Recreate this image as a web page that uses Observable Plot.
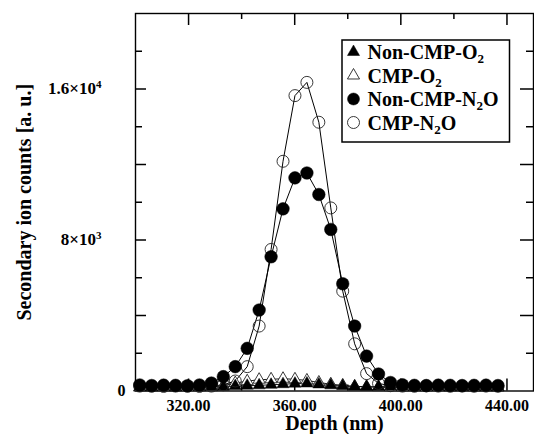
<!DOCTYPE html>
<html>
<head>
<meta charset="utf-8">
<script src="https://cdn.jsdelivr.net/npm/d3@7"></script>
<script src="https://cdn.jsdelivr.net/npm/@observablehq/plot@0.6"></script>
<style>
  html, body { margin: 0; padding: 0; background: #fff; }
  #chart { width: 534px; height: 434px; }
</style>
</head>
<body>
<div id="chart"></div>
<script>
// ---- data ----
const depth = [301.6, 306.1, 310.6, 315.1, 319.6, 324.1, 328.6, 333.1, 337.6, 342.1,
               346.6, 351.1, 355.6, 360.1, 364.6, 369.1, 373.6, 378.1, 382.6, 387.1,
               391.6, 396.1, 400.6, 405.1, 409.6, 414.1, 418.6, 423.1, 427.6, 432.1, 436.6];
const nonCmpO2 = [210, 200, 220, 200, 230, 210, 220, 230, 260, 280,
                  300, 330, 360, 390, 400, 350, 300, 260, 240, 230,
                  220, 230, 220, 210, 220, 210, 200, 210, 220, 200, 210];
const cmpO2 = [180, 170, 190, 180, 170, 190, 200, 280, 420, 520,
               600, 620, 650, 620, 560, 450, 360, 300, 240, 220,
               200, 190, 180, 190, 180, 170, 180, 190, 180, 170, 180];
const nonCmpN2O = [320, 290, 310, 300, 280, 320, 420, 760, 1290, 2260,
                   4290, 7110, 9650, 11290, 11550, 10410, 8560, 5680, 3440, 1850,
                   900, 450, 330, 300, 290, 310, 300, 290, 300, 310, 290];
const cmpN2O = [260, 250, 240, 260, 250, 240, 260, 330, 530, 1290,
                3440, 7500, 12170, 15650, 16350, 14240, 9700, 5290, 2500, 920,
                400, 280, 260, 250, 270, 260, 250, 260, 250, 260, 250];
const seriesNames = ["Non-CMP-O|2", "CMP-O|2", "Non-CMP-N|2|O", "CMP-N|2|O"];
const xLabelTicks = [320, 360, 400, 440];
const xMajorTicks = [320, 360, 400, 440];
const xMinorTicks = [340, 380, 420];
const yLabelTicks = [8000, 16000];
const yZeroTick = [0];
const yMajorTicks = [4000, 8000, 12000, 16000];
const yMinorTicks = [2000, 6000, 10000, 14000, 18000];
const xTitle = "Depth (nm)";
const yTitle = "Secondary ion counts [a. u.]";

// ---- build tables ----
const toRows = (vals) => depth.map((d, i) => ({depth: d, value: vals[i]}));
const rNonO2 = toRows(nonCmpO2), rCmpO2 = toRows(cmpO2),
      rNonN2O = toRows(nonCmpN2O), rCmpN2O = toRows(cmpN2O);

const FONT = "'Liberation Serif', 'Times New Roman', Times, serif";
const W = 534, H = 434, ML = 135, MR = 1, MT = 13, MB = 43.5;
const FW = W - ML - MR, FH = H - MT - MB;

const sciFmt = (v) => {
  if (v === 0) return "0";
  const e = Math.floor(Math.log10(v));
  const m = +(v / Math.pow(10, e)).toFixed(2);
  return `${m}×10|${e}`;
};

const chart = Plot.plot({
  width: W, height: H,
  marginLeft: ML, marginRight: MR, marginTop: MT, marginBottom: MB,
  style: {fontFamily: FONT, background: "#fff", color: "#000"},
  x: {domain: [300, 450]},
  y: {domain: [0, 20000]},
  marks: [
    // ticks (inward)
    Plot.ruleX(xMajorTicks, {x: d => d, insetTop: FH - 12, strokeWidth: 1.5}),
    Plot.ruleX(xMinorTicks, {x: d => d, insetTop: FH - 6, strokeWidth: 1.5}),
    Plot.ruleX(xMajorTicks, {x: d => d, insetBottom: FH - 12, strokeWidth: 1.5}),
    Plot.ruleX(xMinorTicks, {x: d => d, insetBottom: FH - 6, strokeWidth: 1.5}),
    Plot.ruleY(yMajorTicks, {y: d => d, insetRight: FW - 11, strokeWidth: 1.5}),
    Plot.ruleY(yMinorTicks, {y: d => d, insetRight: FW - 7, strokeWidth: 1.5}),
    Plot.ruleY(yMajorTicks, {y: d => d, insetLeft: FW - 13, strokeWidth: 1.5}),
    Plot.ruleY(yMinorTicks, {y: d => d, insetLeft: FW - 7, strokeWidth: 1.5}),
    Plot.frame({stroke: "#000", strokeWidth: 1.4}),
    // axes labels
    Plot.axisX(xLabelTicks, {tickSize: 0, tickPadding: 8.5, tickFormat: d => d.toFixed(2),
      fontSize: 16, fontWeight: "bold", label: null}),
    Plot.axisY(yLabelTicks, {tickSize: 0, tickPadding: 34, tickFormat: sciFmt,
      fontSize: 17, fontWeight: "bold", label: null}),
    Plot.axisY(yZeroTick, {tickSize: 0, tickPadding: 10, tickFormat: sciFmt,
      fontSize: 16, fontWeight: "bold", label: null}),
    Plot.text([xTitle], {frameAnchor: "bottom", dy: 32.5, fontSize: 20, fontWeight: "bold",
      lineAnchor: "middle", textAnchor: "middle"}),
    Plot.text([yTitle], {frameAnchor: "left", dx: -111, rotate: -90, fontSize: 20,
      fontWeight: "bold", lineAnchor: "middle", textAnchor: "middle"}),
    // lines
    Plot.line(rCmpO2, {x: "depth", y: "value", stroke: "#000", strokeWidth: 0.9}),
    Plot.line(rNonO2, {x: "depth", y: "value", stroke: "#000", strokeWidth: 0.9}),
    Plot.line(rCmpN2O, {x: "depth", y: "value", stroke: "#000", strokeWidth: 1}),
    Plot.line(rNonN2O, {x: "depth", y: "value", stroke: "#000", strokeWidth: 1}),
    // markers
    Plot.dot(rCmpO2, {x: "depth", y: "value", symbol: "triangle", r: 4.5,
      fill: "#fff", stroke: "#222", strokeWidth: 0.9}),
    Plot.dot(rNonO2, {x: "depth", y: "value", symbol: "triangle", r: 4.5,
      fill: "#000", stroke: "#000", strokeWidth: 0.5}),
    Plot.dot(rCmpN2O, {x: "depth", y: "value", symbol: "circle", r: 6,
      fill: "none", stroke: "#222", strokeWidth: 0.9}),
    Plot.dot(rNonN2O, {x: "depth", y: "value", symbol: "circle", r: 6.3,
      fill: "#000", stroke: "#000", strokeWidth: 0.5})
  ]
});

// superscripts in tick labels
d3.select(chart).selectAll("text").each(function () {
  const t = this.textContent;
  if (t.includes("|") && this.childElementCount === 0) {
    const [a, b] = t.split("|");
    const s = d3.select(this);
    s.text(null);
    s.append("tspan").text(a);
    s.append("tspan").attr("font-size", 11).attr("dy", "-0.6em").text(b);
  }
});

// legend (inside frame, top right)
const lg = d3.select(chart).append("g").attr("font-family", FONT)
  .attr("font-weight", "bold").attr("font-size", 20).attr("text-anchor", "start");
lg.append("rect").attr("x", 342).attr("y", 40).attr("width", 167.5).attr("height", 102)
  .attr("fill", "#fff").attr("stroke", "#000").attr("stroke-width", 1.5);
const rowY = [52, 75.5, 99, 122.5];
const symX = 353.5;
const tri = d3.symbol(d3.symbolTriangle, 4.5 * 4.5 * Math.PI)();
const circ = d3.symbol(d3.symbolCircle, 6 * 6 * Math.PI)();
const legendStyle = [
  {path: tri, fill: "#000", stroke: "#000", sw: 0.5},
  {path: tri, fill: "#fff", stroke: "#222", sw: 0.9},
  {path: circ, fill: "#000", stroke: "#000", sw: 0.5},
  {path: circ, fill: "none", stroke: "#222", sw: 0.9}
];
seriesNames.forEach((name, i) => {
  const st = legendStyle[i];
  lg.append("path").attr("d", st.path).attr("transform", `translate(${symX},${rowY[i]})`)
    .attr("fill", st.fill).attr("stroke", st.stroke).attr("stroke-width", st.sw);
  const tx = lg.append("text").attr("x", 367.5).attr("y", rowY[i]).attr("dy", "0.35em")
    .attr("text-anchor", "start");
  const parts = name.split("|");
  parts.forEach((p, j) => {
    const isSub = j % 2 === 1;
    const ts = tx.append("tspan").text(p);
    if (isSub) ts.attr("font-size", 13).attr("dy", 4);
    else if (j > 0) ts.attr("dy", -4);
  });
});

document.getElementById("chart").appendChild(chart);
</script>
</body>
</html>
